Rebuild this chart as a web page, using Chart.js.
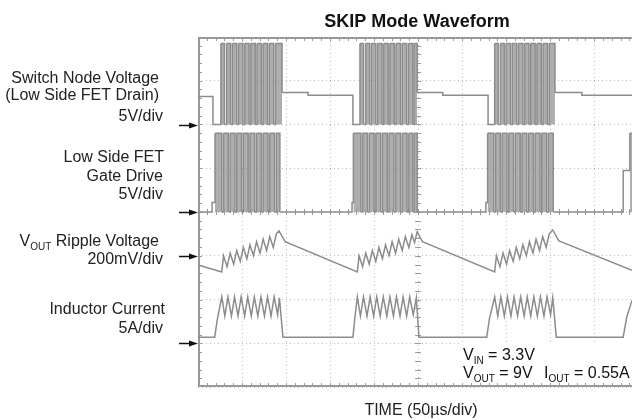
<!DOCTYPE html>
<html>
<head>
<meta charset="utf-8">
<title>SKIP Mode Waveform</title>
<script src="https://cdn.jsdelivr.net/npm/chart.js@4.4.1/dist/chart.umd.min.js"></script>
<style>
  html, body { margin: 0; padding: 0; background: #fff; }
</style>
</head>
<body>
<canvas id="scope" width="632" height="420"></canvas>
<script>
// time in us (50us/div), levels in screen divisions (0 = bottom, 8 = top)
var swTime = [0, 17, 26, 30, 32.5, 37, 39, 44, 46, 51, 53, 58, 60, 65, 67, 72, 74, 79, 81, 86, 88, 95.5, 125,
  176, 184, 188, 190.5, 195, 197, 202, 204, 209, 211, 216, 218, 223, 225, 230, 232, 237, 239, 244, 245.5, 249, 278,
  329.5, 337, 341, 343.5, 348, 350, 355, 357, 362, 364, 369, 371, 376, 378, 383, 385, 390, 392, 397, 399, 405.5, 436, 493];
var swLevel = [6.64, 6, 7.85, 6, 7.85, 6, 7.85, 6, 7.85, 6, 7.85, 6, 7.85, 6, 7.85, 6, 7.85, 6, 7.85, 6, 7.85, 6.73, 6.67,
  6, 7.85, 6, 7.85, 6, 7.85, 6, 7.85, 6, 7.85, 6, 7.85, 6, 7.85, 6, 7.85, 6, 7.85, 6, 7.85, 6.73, 6.67,
  6, 7.85, 6, 7.85, 6, 7.85, 6, 7.85, 6, 7.85, 6, 7.85, 6, 7.85, 6, 7.85, 6, 7.85, 6, 7.85, 6.73, 6.67, 6.67];

var gateTime = [0, 16, 19.3, 27, 29, 34.5, 36.5, 42, 44, 49.5, 51.5, 57, 59, 64.5, 66.5, 72, 74, 79.5, 81.5, 87, 89, 93,
  175, 176.5, 185, 187, 192.5, 194.5, 200, 202, 207.5, 209.5, 215, 217, 222.5, 224.5, 230, 232, 237.5, 239.5, 244, 245.5, 249,
  327, 329, 336, 338, 343.5, 345.5, 351, 353, 358.5, 360.5, 366, 368, 373.5, 375.5, 381, 383, 388.5, 390.5, 396, 398, 403.5,
  483, 490.5, 493];
var gateLevel = [4, 4.22, 5.8, 4, 5.8, 4, 5.8, 4, 5.8, 4, 5.8, 4, 5.8, 4, 5.8, 4, 5.8, 4, 5.8, 4, 5.8, 4,
  4.22, 5.8, 4, 5.8, 4, 5.8, 4, 5.8, 4, 5.8, 4, 5.8, 4, 5.8, 4, 5.8, 4, 5.8, 4, 5.8, 4,
  4.22, 5.8, 4, 5.8, 4, 5.8, 4, 5.8, 4, 5.8, 4, 5.8, 4, 5.8, 4, 5.8, 4, 5.8, 4, 5.8, 4,
  4.95, 5.8, 5.8];

var voutTime = [0, 27, 29, 33, 36.5, 40.5, 44, 48, 51.5, 55.5, 59, 63, 66.5, 70.5, 74, 78, 81.5, 85.5, 89, 92, 99,
  181, 183, 187, 190.5, 194.5, 198, 202, 205.5, 209.5, 213, 217, 220.5, 224.5, 228, 232, 235.5, 239.5, 243, 246, 249, 255,
  337, 339, 343, 346.5, 350.5, 354, 358, 361.5, 365.5, 369, 373, 376.5, 380.5, 384, 388, 391.5, 395.5, 399, 403, 410, 493];
var voutLevel = [2.79, 2.63, 3.0, 2.75, 3.06, 2.81, 3.12, 2.87, 3.19, 2.93, 3.25, 3.0, 3.32, 3.06, 3.38, 3.12, 3.44, 3.19, 3.5, 3.57, 3.32,
  2.63, 3.0, 2.75, 3.06, 2.81, 3.12, 2.87, 3.19, 2.93, 3.25, 3.0, 3.32, 3.06, 3.38, 3.12, 3.44, 3.19, 3.48, 3.3, 3.55, 3.32,
  2.63, 3.0, 2.75, 3.06, 2.81, 3.12, 2.87, 3.19, 2.93, 3.25, 3.0, 3.32, 3.06, 3.38, 3.12, 3.44, 3.19, 3.5, 3.59, 3.34, 2.67];

var ilTime = [0, 19, 22, 27, 30.5, 34, 38, 41.5, 45.5, 49, 53, 56.5, 60.5, 64, 68, 71.5, 75.5, 79, 83, 86.5, 90.5, 92.5, 96.5,
  176, 178, 181, 184.5, 188, 192, 195.5, 199.5, 203, 207, 210.5, 214.5, 218, 222, 225.5, 229.5, 233, 237, 240.5, 244.5, 248, 251,
  328, 331, 337, 340.5, 344, 348, 351.5, 355.5, 359, 363, 366.5, 370.5, 374, 378, 381.5, 385.5, 389, 393, 396.5, 400.5, 403, 407,
  483, 487, 493];
var ilLevel = [1.14, 1.14, 1.55, 2.06, 1.62, 2.06, 1.62, 2.06, 1.62, 2.06, 1.62, 2.06, 1.62, 2.06, 1.62, 2.06, 1.62, 2.06, 1.62, 2.06, 1.65, 2.04, 1.14,
  1.14, 1.55, 2.06, 1.62, 2.06, 1.62, 2.06, 1.62, 2.06, 1.62, 2.06, 1.62, 2.06, 1.62, 2.06, 1.62, 2.06, 1.62, 2.06, 1.65, 2.04, 1.14,
  1.14, 1.55, 2.06, 1.62, 2.06, 1.62, 2.06, 1.62, 2.06, 1.62, 2.06, 1.62, 2.06, 1.62, 2.06, 1.62, 2.06, 1.62, 2.06, 1.65, 2.04, 1.14,
  1.14, 1.6, 1.98];

// channel reference markers (divisions)
var channelRefs = [6, 4, 3, 1];

var traceColor = '#8c8c8c';
var burstFill = 'rgba(160,160,160,0.85)';
var font = '"Liberation Sans", Arial, sans-serif';

function pts(ts, vs) {
  return ts.map(function (t, i) { return { x: t, y: vs[i] }; });
}

function richText(ctx, parts, x, y, align) {
  var total = 0;
  parts.forEach(function (p) {
    ctx.font = (p[1] ? '10px ' : '16px ') + font;
    total += ctx.measureText(p[0]).width;
  });
  var cur = align === 'right' ? x - total : x;
  ctx.textAlign = 'left';
  parts.forEach(function (p) {
    ctx.font = (p[1] ? '10px ' : '16px ') + font;
    ctx.fillText(p[0], cur, p[1] ? y + 4 : y);
    cur += ctx.measureText(p[0]).width;
  });
}

var scopeDecor = {
  id: 'scopeDecor',
  beforeDatasetsDraw: function (chart) {
    var ctx = chart.ctx, a = chart.chartArea, x = chart.scales.x, y = chart.scales.y;
    ctx.save();
    // note box covers the grid
    ctx.fillStyle = '#fff';
    ctx.fillRect(460, 342, a.right - 460, a.bottom - 343);

    ctx.strokeStyle = '#9a9a9a';
    ctx.lineWidth = 1;
    var cx = x.getPixelForValue(250), cy = y.getPixelForValue(4);
    ctx.beginPath();
    for (var t = 10; t < x.max; t += 10) {
      var px = Math.round(x.getPixelForValue(t)) + 0.5;
      ctx.moveTo(px, cy - 3); ctx.lineTo(px, cy + 3);
      ctx.moveTo(px, a.top); ctx.lineTo(px, a.top + 4);
      ctx.moveTo(px, a.bottom - 4); ctx.lineTo(px, a.bottom);
    }
    for (var v = 0.2; v < 8; v += 0.2) {
      var py = Math.round(y.getPixelForValue(v)) + 0.5;
      ctx.moveTo(cx - 3, py); ctx.lineTo(cx + 3, py);
      ctx.moveTo(a.left, py); ctx.lineTo(a.left + 4, py);
    }
    ctx.stroke();

    ctx.strokeStyle = '#999';
    ctx.lineWidth = 2;
    ctx.beginPath();
    ctx.moveTo(a.right, a.top + 1);
    ctx.lineTo(a.left + 1, a.top + 1);
    ctx.lineTo(a.left + 1, a.bottom - 1);
    ctx.lineTo(a.right, a.bottom - 1);
    ctx.stroke();
    ctx.restore();
  },
  afterDraw: function (chart) {
    var ctx = chart.ctx, y = chart.scales.y;
    ctx.save();
    ctx.fillStyle = '#111';
    ctx.strokeStyle = '#111';
    ctx.lineWidth = 1.5;
    channelRefs.forEach(function (v) {
      var py = Math.round(y.getPixelForValue(v)) + 0.5;
      ctx.beginPath();
      ctx.moveTo(179, py); ctx.lineTo(191, py);
      ctx.stroke();
      ctx.beginPath();
      ctx.moveTo(198, py); ctx.lineTo(189, py - 3); ctx.lineTo(189, py + 3);
      ctx.closePath();
      ctx.fill();
    });

    ctx.fillStyle = '#111';
    ctx.textAlign = 'center';
    ctx.font = 'bold 18px ' + font;
    ctx.fillText('SKIP Mode Waveform', 417, 27);
    ctx.font = '16px ' + font;
    ctx.fillStyle = '#222';
    ctx.fillText('TIME (50\u00b5s/div)', 421, 415);

    ctx.textAlign = 'right';
    ctx.fillText('Switch Node Voltage', 159, 83);
    ctx.fillText('(Low Side FET Drain)', 159, 100);
    ctx.fillText('5V/div', 163, 121);
    ctx.fillText('Low Side FET', 164, 162);
    ctx.fillText('Gate Drive', 163, 181);
    ctx.fillText('5V/div', 163, 199);
    richText(ctx, [['V', false], ['OUT', true], [' Ripple Voltage', false]], 159, 246, 'right');
    ctx.textAlign = 'right';
    ctx.font = '16px ' + font;
    ctx.fillText('200mV/div', 163, 264);
    ctx.fillText('Inductor Current', 165, 314);
    ctx.fillText('5A/div', 163, 333);

    ctx.fillStyle = '#111';
    richText(ctx, [['V', false], ['IN', true], [' = 3.3V', false]], 463, 360, 'left');
    richText(ctx, [['V', false], ['OUT', true], [' = 9V', false]], 463, 378, 'left');
    richText(ctx, [['I', false], ['OUT', true], [' = 0.55A', false]], 544, 378, 'left');
    ctx.restore();
  }
};

new Chart(document.getElementById('scope').getContext('2d'), {
  type: 'line',
  data: {
    datasets: [{
      label: 'Switch Node Voltage',
      data: pts(swTime, swLevel),
      stepped: 'before',
      borderColor: traceColor,
      borderWidth: 1.5,
      pointRadius: 0,
      fill: { value: 6 },
      backgroundColor: 'rgba(0,0,0,0)',
      segment: {
        backgroundColor: function (c) { return c.p0.parsed.y > 7.5 ? burstFill : 'rgba(0,0,0,0)'; }
      }
    }, {
      label: 'Low Side FET Gate Drive',
      data: pts(gateTime, gateLevel),
      stepped: 'before',
      borderColor: traceColor,
      borderWidth: 1.5,
      pointRadius: 0,
      fill: { value: 4 },
      backgroundColor: 'rgba(0,0,0,0)',
      segment: {
        backgroundColor: function (c) { return c.p0.parsed.y > 5.5 ? burstFill : 'rgba(0,0,0,0)'; }
      }
    }, {
      label: 'VOUT Ripple Voltage',
      data: pts(voutTime, voutLevel),
      borderColor: traceColor,
      borderWidth: 1.5,
      pointRadius: 0,
      fill: false
    }, {
      label: 'Inductor Current',
      data: pts(ilTime, ilLevel),
      borderColor: traceColor,
      borderWidth: 1.5,
      pointRadius: 0,
      fill: false
    }]
  },
  options: {
    responsive: false,
    animation: false,
    layout: { padding: { left: 198, top: 37, right: 0, bottom: 33 } },
    plugins: {
      legend: { display: false },
      tooltip: { enabled: false }
    },
    scales: {
      x: {
        type: 'linear',
        min: 0,
        max: 493,
        ticks: { display: false, stepSize: 50 },
        grid: { color: '#bdbdbd', lineWidth: 1, drawTicks: false },
        border: { display: false, dash: [1, 3] }
      },
      y: {
        min: 0,
        max: 8,
        ticks: { display: false, stepSize: 1 },
        grid: { color: '#bdbdbd', lineWidth: 1, drawTicks: false },
        border: { display: false, dash: [1, 3] }
      }
    }
  },
  plugins: [scopeDecor]
});
</script>
</body>
</html>
